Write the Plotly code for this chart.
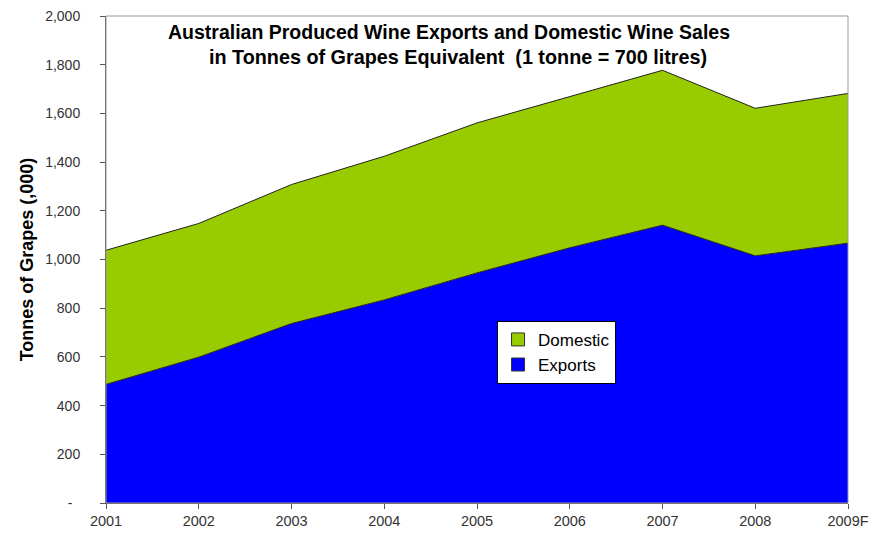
import plotly.graph_objects as go

years = ["2001", "2002", "2003", "2004", "2005", "2006", "2007", "2008", "2009F"]
exports = [487, 599, 737, 834, 945, 1048, 1141, 1015, 1067]
totals = [1038, 1148, 1308, 1424, 1561, 1668, 1777, 1621, 1682]
domestic = [t - e for t, e in zip(totals, exports)]

ytick_vals = [0, 200, 400, 600, 800, 1000, 1200, 1400, 1600, 1800, 2000]
ytick_text = ["-\u00a0\u00a0", "200", "400", "600", "800", "1,000", "1,200",
              "1,400", "1,600", "1,800", "2,000"]

BLUE = "#0000FF"
GREEN = "#99CC00"

fig = go.Figure()
fig.add_trace(go.Scatter(
    x=years, y=exports, name="Exports", mode="lines", stackgroup="one", showlegend=False,
    line=dict(color="#222222", width=1), fillcolor=BLUE))
fig.add_trace(go.Scatter(
    x=years, y=domestic, name="Domestic", mode="lines", stackgroup="one", showlegend=False,
    line=dict(color="#222222", width=1), fillcolor=GREEN))
# legend-only entries with square swatches
fig.add_trace(go.Scatter(
    x=[None], y=[None], name="Exports", mode="markers",
    marker=dict(symbol="square", size=13, color=BLUE, line=dict(color="#333333", width=1))))
fig.add_trace(go.Scatter(
    x=[None], y=[None], name="Domestic", mode="markers",
    marker=dict(symbol="square", size=13, color=GREEN, line=dict(color="#333333", width=1))))

fig.update_layout(
    width=873, height=533,
    margin=dict(l=106, r=25, t=16, b=30),
    paper_bgcolor="white", plot_bgcolor="white",
    font=dict(family="Arial, Liberation Sans, sans-serif", size=14, color="#333333"),
    showlegend=True,
    legend=dict(x=0.527, y=0.374, xanchor="left", yanchor="top",
                bgcolor="white", bordercolor="#000000", borderwidth=1,
                traceorder="reversed", font=dict(size=17, color="#000000"),
                itemwidth=30, tracegroupgap=0),
    annotations=[
        dict(text="<b>Australian Produced Wine Exports and Domestic Wine Sales</b>",
             xref="paper", yref="paper", x=0.462, y=0.968, xanchor="center", yanchor="middle",
             showarrow=False, font=dict(size=19.5, color="#000000")),
        dict(text="<b>in Tonnes of Grapes Equivalent  (1 tonne = 700 litres)</b>",
             xref="paper", yref="paper", x=0.474, y=0.916, xanchor="center", yanchor="middle",
             showarrow=False, font=dict(size=19.8, color="#000000")),
    ],
    shapes=[dict(type="rect", xref="paper", yref="paper", x0=0, y0=0, x1=1, y1=1,
                 line=dict(color="#999999", width=1), layer="above")],
)

fig.update_xaxes(
    type="category", range=[0, 8], showgrid=False, zeroline=False, automargin=False,
    showline=True, linecolor="#555555", linewidth=1,
    ticks="outside", ticklen=5, tickcolor="#555555",
    tickfont=dict(size=14.5, color="#333333"))
fig.update_yaxes(
    range=[0, 2000], showgrid=False, zeroline=False, automargin=False,
    showline=True, linecolor="#555555", linewidth=1,
    ticks="outside", ticklen=5, tickcolor="#555555", ticklabelstandoff=17,
    tickvals=ytick_vals, ticktext=ytick_text,
    tickfont=dict(size=14, color="#333333"),
    title=dict(text="<b>Tonnes of Grapes (,000)</b>", font=dict(size=18, color="#000000"), standoff=6))

fig.write_html("out.html")
